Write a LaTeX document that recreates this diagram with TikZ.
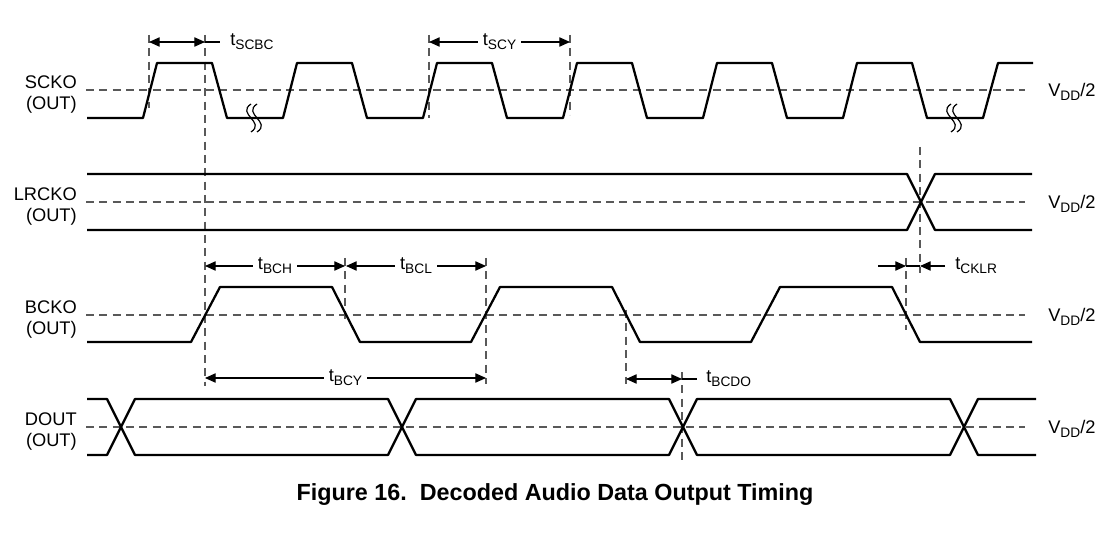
\documentclass[tikz,border=0pt]{standalone}
\usepackage{fontspec}
\setmainfont{Liberation Sans}
\usetikzlibrary{arrows.meta}

\newcommand{\tsub}[2]{#1\raisebox{-3pt}{\fontsize{10.3}{12}\selectfont #2}}

\begin{document}
\begin{tikzpicture}[
x=0.75pt, y=-0.75pt,
>={Triangle[length=8pt,width=7pt]},
font=\fontsize{13.7}{15.5}\selectfont,
wave/.style={line width=1.7pt, line join=round},
half/.style={gray!70!black, line width=0.8pt, dash pattern=on 6pt off 4pt},
guide/.style={gray!70!black, line width=0.8pt, dash pattern=on 6pt off 4pt},
dim/.style={line width=0.8pt},
sig/.style={align=right, anchor=east, inner sep=0pt},
vdd/.style={anchor=west, inner sep=0pt},
tlab/.style={inner sep=0pt},
gap/.style={fill=white, inner sep=4pt},
brk/.style={line width=0.9pt}]

\useasboundingbox (0,0) rectangle (1116,534);

\foreach \yy/\nm/\lab in {90/scko/SCKO, 202/lrcko/LRCKO, 315/bcko/BCKO, 427/dout/DOUT} {
  \draw[half] (86,\yy) -- (1025,\yy);
  \node[sig] (\nm) at (77,\yy+4.5) {\lab\\(OUT)};
  \node[vdd] (\nm-v) at (1048,\yy+2) {\tsub{V}{DD}/2};
}

\foreach \x/\ya/\yb in {149/35/108, 205/35/386, 429/35/118, 570/35/115, 920/147/273,
  906/258/330, 345/258/322, 486/258/384, 626/310/384, 682/372/463}
  \draw[guide] (\x,\ya) -- (\x,\yb);

\draw[wave] (87,118) \foreach \k in {0,...,5} { -- ({143+140*\k},118) -- ({157+140*\k},63)
  -- ({212+140*\k},63) -- ({227+140*\k},118) } -- (983,118) -- (998,63) -- (1033,63);
\foreach \bx in {251,951} \foreach \dx in {0,6}
  \draw[brk] ({\bx+\dx},104) .. controls ({\bx+\dx-15},114) and ({\bx+\dx+15},122) .. ({\bx+\dx},132);

\draw[wave] (87,174) -- (907,174) -- (935,230) -- (1032,230);
\draw[wave] (87,230) -- (907,230) -- (935,174) -- (1032,174);

\draw[wave] (87,342) \foreach \k in {0,1,2} { -- ({191+280*\k},342) -- ({220+280*\k},287)
  -- ({332+280*\k},287) -- ({360+280*\k},342) } -- (1032,342);

\foreach \ya/\yb in {399/455, 455/399}
  \draw[wave] (87,\ya) -- (107,\ya) -- (135,\yb) -- (388,\yb) -- (416,\ya) -- (669,\ya)
    -- (697,\yb) -- (950,\yb) -- (978,\ya) -- (1036,\ya);

\coordinate (scbc1) at (149,42);
\coordinate (scbc2) at (205,42);
\coordinate (scbc3) at (220,42);
\coordinate (scy1) at (429,42);
\coordinate (scy2) at (570,42);
\coordinate (bch1) at (205,266);
\coordinate (bch2) at (345,266);
\coordinate (bcl1) at (346,266);
\coordinate (bcl2) at (486,266);
\coordinate (bcy1) at (205,378);
\coordinate (bcy2) at (486,378);
\coordinate (bcdo1) at (626,379);
\coordinate (bcdo2) at (682,379);
\coordinate (bcdo3) at (697,379);
\coordinate (cklr1) at (878,266);
\coordinate (cklr2) at (906,266);
\coordinate (cklr3) at (920,266);
\coordinate (cklr4) at (945,266);

\draw[dim,<->] (scbc1) -- (scbc2);
\draw[dim] (scbc2) -- (scbc3);
\node[tlab,anchor=west] (tscbc) at (230,42) {\tsub{t}{SCBC}};

\draw[dim,<->] (scy1) -- node[gap] (tscy) {\tsub{t}{SCY}} (scy2);
\draw[dim,<->] (bch1) -- node[gap] (tbch) {\tsub{t}{BCH}} (bch2);
\draw[dim,<->] (bcl1) -- node[gap] (tbcl) {\tsub{t}{BCL}} (bcl2);
\draw[dim,<->] (bcy1) -- node[gap] (tbcy) {\tsub{t}{BCY}} (bcy2);

\draw[dim,<->] (bcdo1) -- (bcdo2);
\draw[dim] (bcdo2) -- (bcdo3);
\node[tlab,anchor=west] (tbcdo) at (706,379) {\tsub{t}{BCDO}};

\draw[dim,->] (cklr1) -- (cklr2);
\draw[dim] (cklr2) -- (cklr3);
\draw[dim,->] (cklr4) -- (cklr3);
\node[tlab,anchor=west] (tcklr) at (955,266) {\tsub{t}{CKLR}};

\node[font=\bfseries\fontsize{17.5}{20}\selectfont] (cap) at (555,495)
  {Figure 16.~~Decoded Audio Data Output Timing};
\end{tikzpicture}
\end{document}
